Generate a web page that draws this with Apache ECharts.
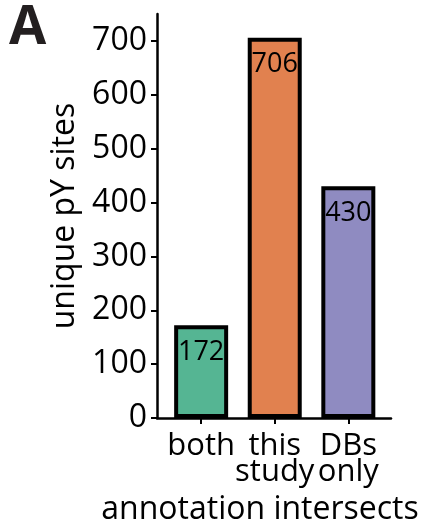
<!DOCTYPE html>
<html>
<head>
<meta charset="utf-8">
<script src="https://cdn.jsdelivr.net/npm/echarts@6/dist/echarts.min.js"></script>
<style>
  html, body { margin: 0; padding: 0; background: #fff; }
  #chart { width: 428px; height: 519px; }
</style>
</head>
<body>
<div id="chart"></div>
<script>
// Unique pY sites per annotation intersect
const categories = ['both', 'this\nstudy', 'DBs\nonly'];
const siteCounts = [172, 706, 430];
const barColors = ['#55b593', '#e1814f', '#8f8bc1'];
const yTicks = [0, 100, 200, 300, 400, 500, 600, 700];

const FONT = '"Open Sans", sans-serif';
const catIndex = categories.map((_, i) => i);

const chart = echarts.init(document.getElementById('chart'), null, { renderer: 'canvas' });

chart.setOption({
  animation: false,
  backgroundColor: '#ffffff',
  textStyle: { fontFamily: FONT, color: '#000' },
  graphic: [{
    type: 'text',
    left: 9,
    top: 2,
    style: { text: 'A', font: 'bold 54px ' + FONT, fill: '#231f20' }
  }],
  grid: {
    left: 157, right: 37, top: 14, bottom: 101,
    containLabel: false,
    outerBoundsMode: 'none'
  },
  xAxis: {
    type: 'value',
    min: -0.6,
    max: 2.58,
    splitLine: { show: false },
    axisLine: { show: true, onZero: false, lineStyle: { color: '#000', width: 2.5 } },
    axisTick: { show: true, customValues: catIndex, length: 6, lineStyle: { color: '#000', width: 2 } },
    axisLabel: {
      customValues: catIndex,
      formatter: v => categories[Math.round(v)],
      fontSize: 31,
      lineHeight: 26,
      margin: 15,
      color: '#000',
      fontFamily: FONT
    },
    name: 'annotation intersects',
    nameLocation: 'middle',
    nameGap: 76,
    nameTextStyle: { fontSize: 32, color: '#000', fontFamily: FONT, padding: [0, 28, 0, 0] }
  },
  yAxis: {
    type: 'value',
    min: 0,
    max: 750,
    splitLine: { show: false },
    axisLine: { show: true, onZero: false, lineStyle: { color: '#000', width: 2.5 } },
    axisTick: { show: true, customValues: yTicks, length: 6, lineStyle: { color: '#000', width: 2 } },
    axisLabel: {
      customValues: yTicks,
      fontSize: 32,
      margin: 10,
      color: '#000',
      fontFamily: FONT
    },
    name: 'unique pY sites',
    nameLocation: 'middle',
    nameGap: 68,
    nameTextStyle: { fontSize: 32, color: '#000', fontFamily: FONT }
  },
  series: [{
    type: 'bar',
    barWidth: 54,
    data: siteCounts.map((v, i) => ({
      value: [i, v],
      itemStyle: { color: barColors[i] }
    })),
    itemStyle: { borderColor: '#000', borderWidth: 4 },
    label: {
      show: true,
      position: 'insideTop',
      distance: 13,
      formatter: p => p.value[1],
      fontSize: 27,
      color: '#000',
      fontFamily: FONT
    }
  }]
});
</script>
</body>
</html>
